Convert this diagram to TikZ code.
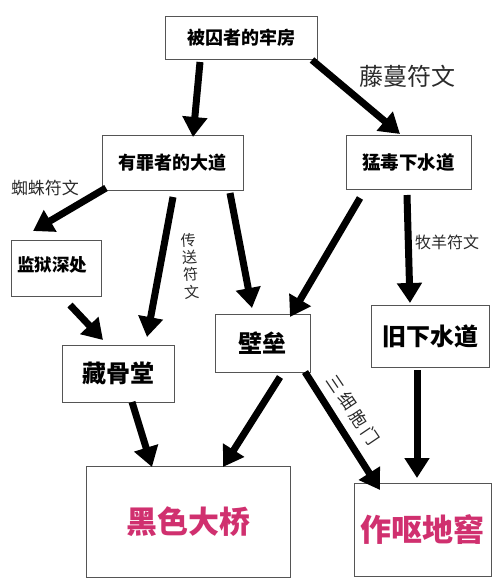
\documentclass[tikz,border=0pt]{standalone}
\usepackage{fontspec}
\setmainfont{Noto Sans CJK SC}
\usetikzlibrary{arrows.meta}
\definecolor{pinkt}{HTML}{D0306F}
\definecolor{boxline}{HTML}{555555}
\definecolor{lbl}{HTML}{2A2A2A}
\tikzset{
  box/.style={draw=boxline,line width=1pt,fill=white,inner sep=0pt,align=center,font=\bfseries},
  arr/.style={line width=7pt,-{Triangle[length=20pt,width=24pt]}},
  lab/.style={text=lbl,inner sep=0pt}
}
\begin{document}
\begin{tikzpicture}[x=1pt,y=-1pt]
\useasboundingbox (0,0) rectangle (500,582);
\node[box,minimum width=152pt,minimum height=43pt,font=\bfseries\fontsize{18}{20}\selectfont] (A) at (241,37.5) {被囚者的牢房};
\node[box,minimum width=141pt,minimum height=55pt,font=\bfseries\fontsize{18}{20}\selectfont] (B) at (172.5,162.5) {有罪者的大道};
\node[box,minimum width=125pt,minimum height=54pt,font=\bfseries\fontsize{18.5}{20}\selectfont] (C) at (408.5,162) {猛毒下水道};
\node[box,minimum width=90pt,minimum height=56pt] (D) at (56,268) {};
\node[font=\bfseries\fontsize{17.5}{20}\selectfont,inner sep=0pt] (Dt) at (52,265) {监狱深处};
\node[box,minimum width=112pt,minimum height=57pt,font=\bfseries\fontsize{24}{26}\selectfont] (E) at (118,373.5) {藏骨堂};
\node[box,minimum width=95pt,minimum height=58pt,font=\bfseries\fontsize{24}{26}\selectfont] (F) at (262.5,343) {壁垒};
\node[box,minimum width=118pt,minimum height=62pt,font=\bfseries\fontsize{24}{26}\selectfont] (G) at (430,336) {旧下水道};
\node[box,minimum width=204pt,minimum height=111pt,text=pinkt,font=\bfseries\fontsize{31}{33}\selectfont] (H) at (188,521.5) {黑色大桥};
\node[box,minimum width=137pt,minimum height=93pt,text=pinkt,font=\bfseries\fontsize{31}{33}\selectfont] (I) at (422.5,529.5) {作呕地窖};

\draw[arr] ([shift={(-41,24.5)}]A.center) -- ([shift={(20.5,-25.5)}]B.center);
\draw[arr] ([shift={(71,22.5)}]A.center) -- ([shift={(-8.5,-28)}]C.center);
\draw[arr] ([shift={(-66.5,25.5)}]B.center) -- ([shift={(-23,-37)}]D.center);
\draw[arr] ([shift={(0.5,34.5)}]B.center) -- ([shift={(29,-36.5)}]E.center);
\draw[arr] ([shift={(57.5,30.5)}]B.center) -- ([shift={(-10.5,-35)}]F.center);
\draw[arr] ([shift={(-48.5,36)}]C.center) -- ([shift={(27.5,-26)}]F.center);
\draw[arr] ([shift={(-1.5,33)}]C.center) -- ([shift={(-20,-33)}]G.center);
\draw[arr] ([shift={(14,37)}]D.center) -- ([shift={(-15,-33.5)}]E.center);
\draw[arr] ([shift={(14,28.5)}]E.center) -- ([shift={(-36,-54.5)}]H.center);
\draw[arr] ([shift={(17.5,34)}]F.center) -- ([shift={(35,-54.5)}]H.center);
\draw[arr] ([shift={(42.5,29)}]F.center) -- ([shift={(-42.5,-39.5)}]I.center);
\draw[arr] ([shift={(-13,34)}]G.center) -- ([shift={(-5.5,-51.5)}]I.center);

\node[lab,font=\fontsize{24}{26}\selectfont] (L1) at (407,76) {藤蔓符文};
\node[lab,font=\fontsize{17}{19}\selectfont] (L2) at (45,188) {蜘蛛符文};
\node[lab,font=\fontsize{16}{19}\selectfont] (L3) at (447,242) {牧羊符文};
\node[lab,font=\fontsize{15}{17.5}\selectfont,align=center,rotate=4] (L4) at (190,266) {传\\送\\符\\文};
\node[lab,font=\fontsize{17}{19}\selectfont,rotate=-56] (L5) at (353,410) {三\hspace{4pt}细\hspace{4pt}胞\hspace{4pt}门};
\end{tikzpicture}
\end{document}
